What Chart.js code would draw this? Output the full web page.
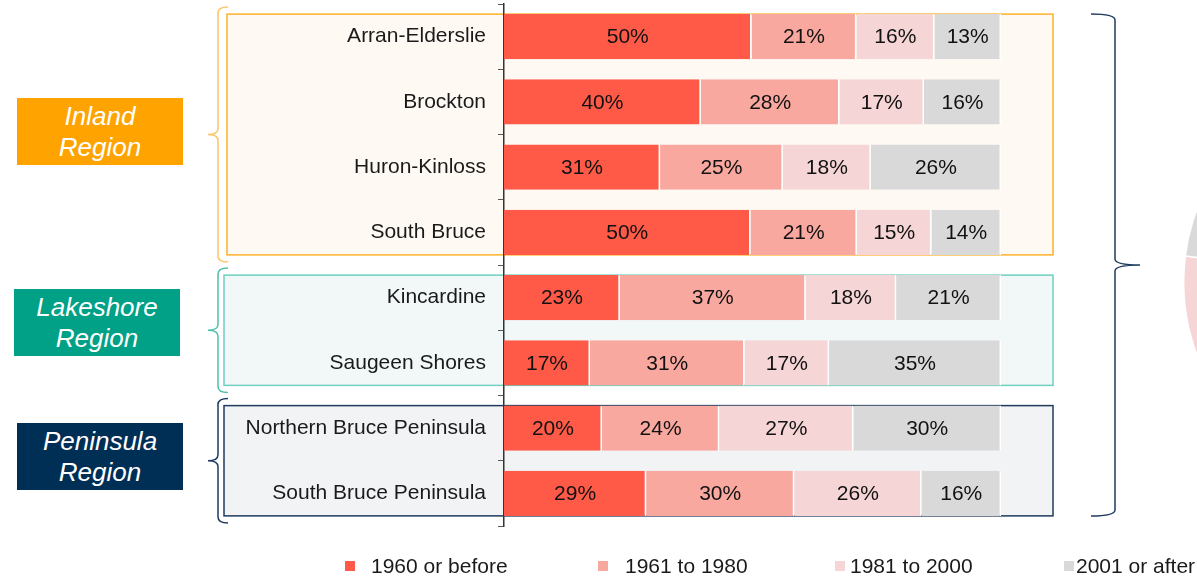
<!DOCTYPE html>
<html>
<head>
<meta charset="utf-8">
<script src="https://cdn.jsdelivr.net/npm/chart.js@4.4.1/dist/chart.umd.min.js"></script>
<style>
  html, body { margin: 0; padding: 0; background: #fff; overflow: hidden; }
  #wrap { position: relative; width: 1197px; height: 577px; overflow: hidden; font-family: 'Liberation Sans', Arial, sans-serif; }
  #barChart { position: absolute; left: 0; top: 0; }
  #pieBox { position: absolute; left: 1183px; top: 74px; width: 416px; height: 416px; }
  .region { position: absolute; width: 166px; height: 67px; color: #fff; font-style: italic; font-size: 26px; line-height: 31px; text-align: center; display: flex; align-items: center; justify-content: center; }
  .legend-item { position: absolute; top: 554px; height: 24px; font-size: 21px; line-height: 24px; color: #1a1a1a; white-space: nowrap; }
  .legend-item .mark { position: absolute; top: 7px; width: 10px; height: 10px; }
</style>
</head>
<body>
<div id="wrap">
  <canvas id="barChart" width="1197" height="577"></canvas>
  <div id="pieBox"><canvas id="pieChart" width="416" height="416"></canvas></div>
</div>
<script>
Chart.defaults.font.family = "'Liberation Sans', Arial, sans-serif";
Chart.defaults.color = '#1a1a1a';

const categories = ['Arran-Elderslie', 'Brockton', 'Huron-Kinloss', 'South Bruce', 'Kincardine', 'Saugeen Shores', 'Northern Bruce Peninsula', 'South Bruce Peninsula'];
const seriesNames = ['1960 or before', '1961 to 1980', '1981 to 2000', '2001 or after'];
const built1960OrBefore = [49.8, 39.6, 31.4, 49.6, 23.3, 17.3, 19.7, 28.6];
const built1961To1980 = [21.1, 27.9, 24.7, 21.4, 37.4, 31.1, 23.6, 29.8];
const built1981To2000 = [15.7, 17.0, 17.7, 15.0, 18.2, 17.0, 27.0, 25.6];
const built2001OrAfter = [13.4, 15.5, 26.2, 14.0, 21.1, 34.6, 29.7, 16.0];
const regionNames = ['Inland Region', 'Lakeshore Region', 'Peninsula Region'];
const regionSizes = [4, 2, 2];
// county-wide split, pie is cut off by the right edge
const overallShares = [33, 26, 18, 23];

const seriesColors = ['#FF5A48', '#F9A89F', '#F5D5D5', '#D9D9D9'];
const regionColors = ['#FFA300', '#00A186', '#002F56'];
const regionBorders = ['#FDB22B', '#6ED0BF', '#1F3B5E'];
const regionFills = ['#FEF9F3', '#F2F8F8', '#F2F3F5'];
const bracketColors = ['#FDC465', '#4DBFA8', '#1F3B5E'];
const regionBoxLeft = [227, 224, 224];
const regionBoxRight = 1053;

// curly bracket, opening to the right ("{") or left ("}")
function brace(ctx, xSpine, xHook, xTip, top, bottom, color) {
  const mid = (top + bottom) / 2;
  ctx.save();
  ctx.strokeStyle = color;
  ctx.lineWidth = 1.5;
  ctx.beginPath();
  ctx.moveTo(xHook, top);
  ctx.quadraticCurveTo(xSpine, top, xSpine, top + 6);
  ctx.lineTo(xSpine, mid - 6);
  ctx.quadraticCurveTo(xSpine, mid, xTip, mid);
  ctx.moveTo(xTip, mid);
  ctx.quadraticCurveTo(xSpine, mid, xSpine, mid + 6);
  ctx.lineTo(xSpine, bottom - 6);
  ctx.quadraticCurveTo(xSpine, bottom, xHook, bottom);
  ctx.stroke();
  ctx.restore();
}

const regionPlugin = {
  id: 'regions',
  beforeDraw(chart) {
    const ctx = chart.ctx;
    const y = chart.scales.y;
    const bars = chart.getDatasetMeta(0).data;
    const half = y.height / categories.length / 2;
    let first = 0;
    regionSizes.forEach((n, r) => {
      const last = first + n - 1;
      const top = bars[first].y - bars[first].height / 2;
      const bottom = bars[last].y + bars[last].height / 2;
      ctx.save();
      ctx.fillStyle = regionFills[r];
      ctx.fillRect(regionBoxLeft[r], top, regionBoxRight - regionBoxLeft[r], bottom - top);
      ctx.strokeStyle = regionBorders[r];
      ctx.lineWidth = 1.5;
      ctx.strokeRect(regionBoxLeft[r], top, regionBoxRight - regionBoxLeft[r], bottom - top);
      ctx.restore();
      const bandTop = y.getPixelForValue(first) - half + 3;
      const bandBottom = y.getPixelForValue(last) + half - 3;
      brace(ctx, 218, 228, 208, bandTop, bandBottom, bracketColors[r]);
      first += n;
    });
    const allTop = bars[0].y - bars[0].height / 2;
    const allBottom = bars[bars.length - 1].y + bars[bars.length - 1].height / 2;
    brace(ctx, 1115, 1091, 1140, allTop, allBottom, '#1F3B5E');
  }
};

const valueLabels = {
  id: 'valueLabels',
  afterDatasetsDraw(chart) {
    const ctx = chart.ctx;
    ctx.save();
    ctx.font = "21px 'Liberation Sans', Arial, sans-serif";
    ctx.fillStyle = '#111';
    ctx.textAlign = 'center';
    ctx.textBaseline = 'middle';
    chart.data.datasets.forEach((ds, i) => {
      chart.getDatasetMeta(i).data.forEach((bar, j) => {
        ctx.fillText(Math.round(ds.data[j]) + '%', (bar.x + bar.base) / 2, bar.y + 1);
      });
    });
    ctx.restore();
  }
};

const seriesData = [built1960OrBefore, built1961To1980, built1981To2000, built2001OrAfter];

new Chart(document.getElementById('barChart'), {
  type: 'bar',
  data: {
    labels: categories,
    datasets: seriesNames.map((name, i) => ({
      label: name,
      data: seriesData[i],
      backgroundColor: seriesColors[i],
      borderColor: '#fff',
      borderWidth: { left: 0, top: 0, bottom: 0, right: 1.5 },
      borderSkipped: false,
      categoryPercentage: 1,
      barPercentage: 0.69
    }))
  },
  options: {
    indexAxis: 'y',
    responsive: false,
    animation: false,
    layout: { padding: { top: 4, right: 196, bottom: 51, left: 0 } },
    plugins: { legend: { display: false }, tooltip: { enabled: false } },
    scales: {
      x: { stacked: true, min: 0, max: 100, display: false },
      y: {
        stacked: true,
        grid: { drawOnChartArea: false, drawTicks: true, tickLength: 6, color: '#595959', offset: true },
        border: { display: true, color: '#333', width: 1.5 },
        ticks: { font: { size: 21 }, color: '#1a1a1a', padding: 12 },
        afterFit(scale) {
          scale.width = 504;
          scale.paddingTop = 0;
          scale.paddingBottom = 0;
        }
      }
    }
  },
  plugins: [regionPlugin, valueLabels]
});

new Chart(document.getElementById('pieChart'), {
  type: 'pie',
  data: {
    labels: seriesNames,
    datasets: [{ data: overallShares, backgroundColor: seriesColors, borderColor: '#fff', borderWidth: 1.5 }]
  },
  options: {
    responsive: false,
    animation: false,
    plugins: { legend: { display: false }, tooltip: { enabled: false } }
  }
});

// region tags on the left
const regionTagPos = [[17, 98], [14, 289], [17, 423]];
const wrap = document.getElementById('wrap');
regionNames.forEach((name, r) => {
  const div = document.createElement('div');
  div.className = 'region';
  div.style.left = regionTagPos[r][0] + 'px';
  div.style.top = regionTagPos[r][1] + 'px';
  div.style.background = regionColors[r];
  div.innerHTML = name.replace(' ', '<br>');
  wrap.appendChild(div);
});

// legend along the bottom
const legendMarkX = [345, 598, 835, 1064];
const legendTextX = [371, 625, 850, 1076];
seriesNames.forEach((name, i) => {
  const item = document.createElement('div');
  item.className = 'legend-item';
  item.style.left = legendMarkX[i] + 'px';
  const mark = document.createElement('span');
  mark.className = 'mark';
  mark.style.left = '0px';
  mark.style.background = seriesColors[i];
  const text = document.createElement('span');
  text.style.marginLeft = (legendTextX[i] - legendMarkX[i]) + 'px';
  text.textContent = name;
  item.appendChild(mark);
  item.appendChild(text);
  wrap.appendChild(item);
});
</script>
</body>
</html>
